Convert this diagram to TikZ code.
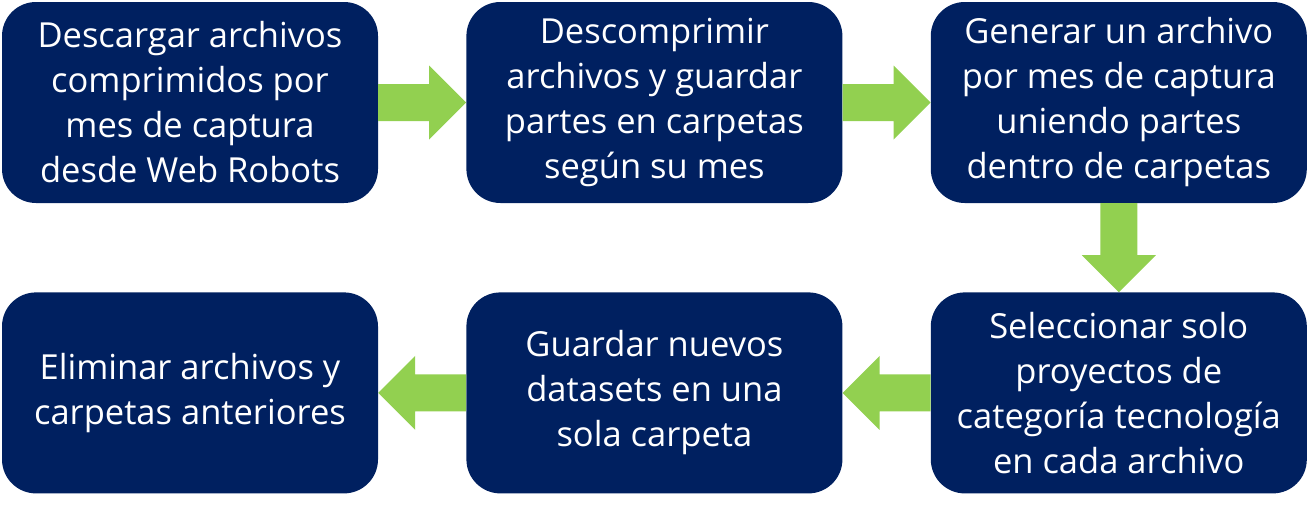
\documentclass[tikz,border=0pt]{standalone}
\usepackage{fontspec}
\setmainfont{Open Sans}
\usetikzlibrary{positioning,calc}
\definecolor{cazul}{HTML}{002060}
\definecolor{cverde}{HTML}{92D050}
\newcommand\flecha[2]{%
  \coordinate (hb) at ($(#2)!37pt!(#1)$);
  \fill[cverde] ($(#1)!18.5pt!90:(#2)$) -- ($(hb)!18.5pt!90:(#2)$) -- ($(hb)!37pt!90:(#2)$)
    -- (#2) -- ($(hb)!37pt!-90:(#2)$) -- ($(hb)!18.5pt!-90:(#2)$) -- ($(#1)!18.5pt!-90:(#2)$) -- cycle;}

\begin{document}
\begin{tikzpicture}[x=1pt,y=1pt,
  paso/.style={fill=cazul,text=white,rounded corners=34pt,minimum width=376pt,minimum height=201pt,
    inner sep=0pt,align=center,font=\fontsize{34.5}{45}\selectfont}]
  \useasboundingbox (0,0) rectangle (1313,-506);
  \node[paso] (descargar) at (190,-102.5) {Descargar archivos\\comprimidos por\\mes de captura\\desde Web Robots};
  \node[paso,right=88pt of descargar] (descomprimir) {Descomprimir\\archivos y guardar\\partes en carpetas\\según su mes};
  \node[paso,right=88pt of descomprimir] (generar) {Generar un archivo\\por mes de captura\\uniendo partes\\dentro de carpetas};
  \node[paso,below=89pt of generar] (seleccionar) {Seleccionar solo\\proyectos de\\categoría tecnología\\en cada archivo};
  \node[paso,left=88pt of seleccionar] (guardar) {Guardar nuevos\\datasets en una\\sola carpeta};
  \node[paso,left=88pt of guardar] (eliminar) {Eliminar archivos y\\carpetas anteriores};
  \flecha{descargar.east}{descomprimir.west}
  \flecha{descomprimir.east}{generar.west}
  \flecha{generar.south}{seleccionar.north}
  \flecha{seleccionar.west}{guardar.east}
  \flecha{guardar.west}{eliminar.east}
\end{tikzpicture}
\end{document}
